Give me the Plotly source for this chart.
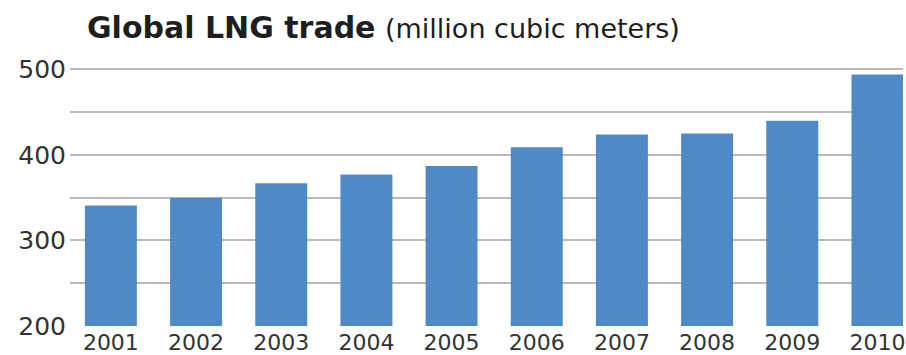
import plotly.graph_objects as go

years = ["2001", "2002", "2003", "2004", "2005", "2006", "2007", "2008", "2009", "2010"]
trade = [341, 350, 367, 377, 387, 409, 424, 425, 440, 494]
y_ticks = [200, 300, 400, 500]

bar_color = "#4f8ac8"
grid_color = "#bababa"
text_color = "#333333"
font_family = "DejaVu Sans"

W, H = 906, 355
ML, MR, MT, MB = 70, 3, 60, 29
PW, PH = W - ML - MR, H - MT - MB

fig = go.Figure(go.Bar(x=years, y=trade, marker=dict(color=bar_color, line=dict(width=0)), width=0.61))

fig.update_layout(
    width=W, height=H,
    margin=dict(l=ML, r=MR, t=MT, b=MB, autoexpand=False),
    paper_bgcolor="white", plot_bgcolor="white",
    showlegend=False,
    font=dict(family=font_family, color=text_color),
    xaxis=dict(
        type="category", range=[-0.48, 9.3], showgrid=False, zeroline=False,
        showline=False, ticks="", automargin=False,
        tickfont=dict(size=22, color=text_color, family=font_family),
        ticklabelstandoff=1,
    ),
    yaxis=dict(
        range=[200, 511], tickvals=y_ticks, ticktext=[str(v) for v in y_ticks],
        showgrid=True, gridcolor=grid_color, gridwidth=2, zeroline=False, showline=False,
        ticks="", automargin=False,
        tickfont=dict(size=25, color=text_color, family=font_family),
        ticklabelstandoff=3,
        minor=dict(dtick=50, tick0=200, showgrid=True, gridcolor=grid_color, gridwidth=2, ticks=""),
    ),
    annotations=[dict(
        x=(85 - ML) / PW, y=(326 - 27) / PH, xref="paper", yref="paper",
        xanchor="left", yanchor="middle",
        text="<b>Global LNG trade</b> <span style='font-size:27px;font-weight:400'>(million cubic meters)</span>",
        showarrow=False,
        font=dict(size=30, family="DejaVu Sans", color="#1e1e1e"),
    )],
)

fig.write_html(
    "out.html",
    config={"displayModeBar": False, "staticPlot": True},
    post_script="document.body.style.margin='0';document.body.style.overflow='hidden';",
)
